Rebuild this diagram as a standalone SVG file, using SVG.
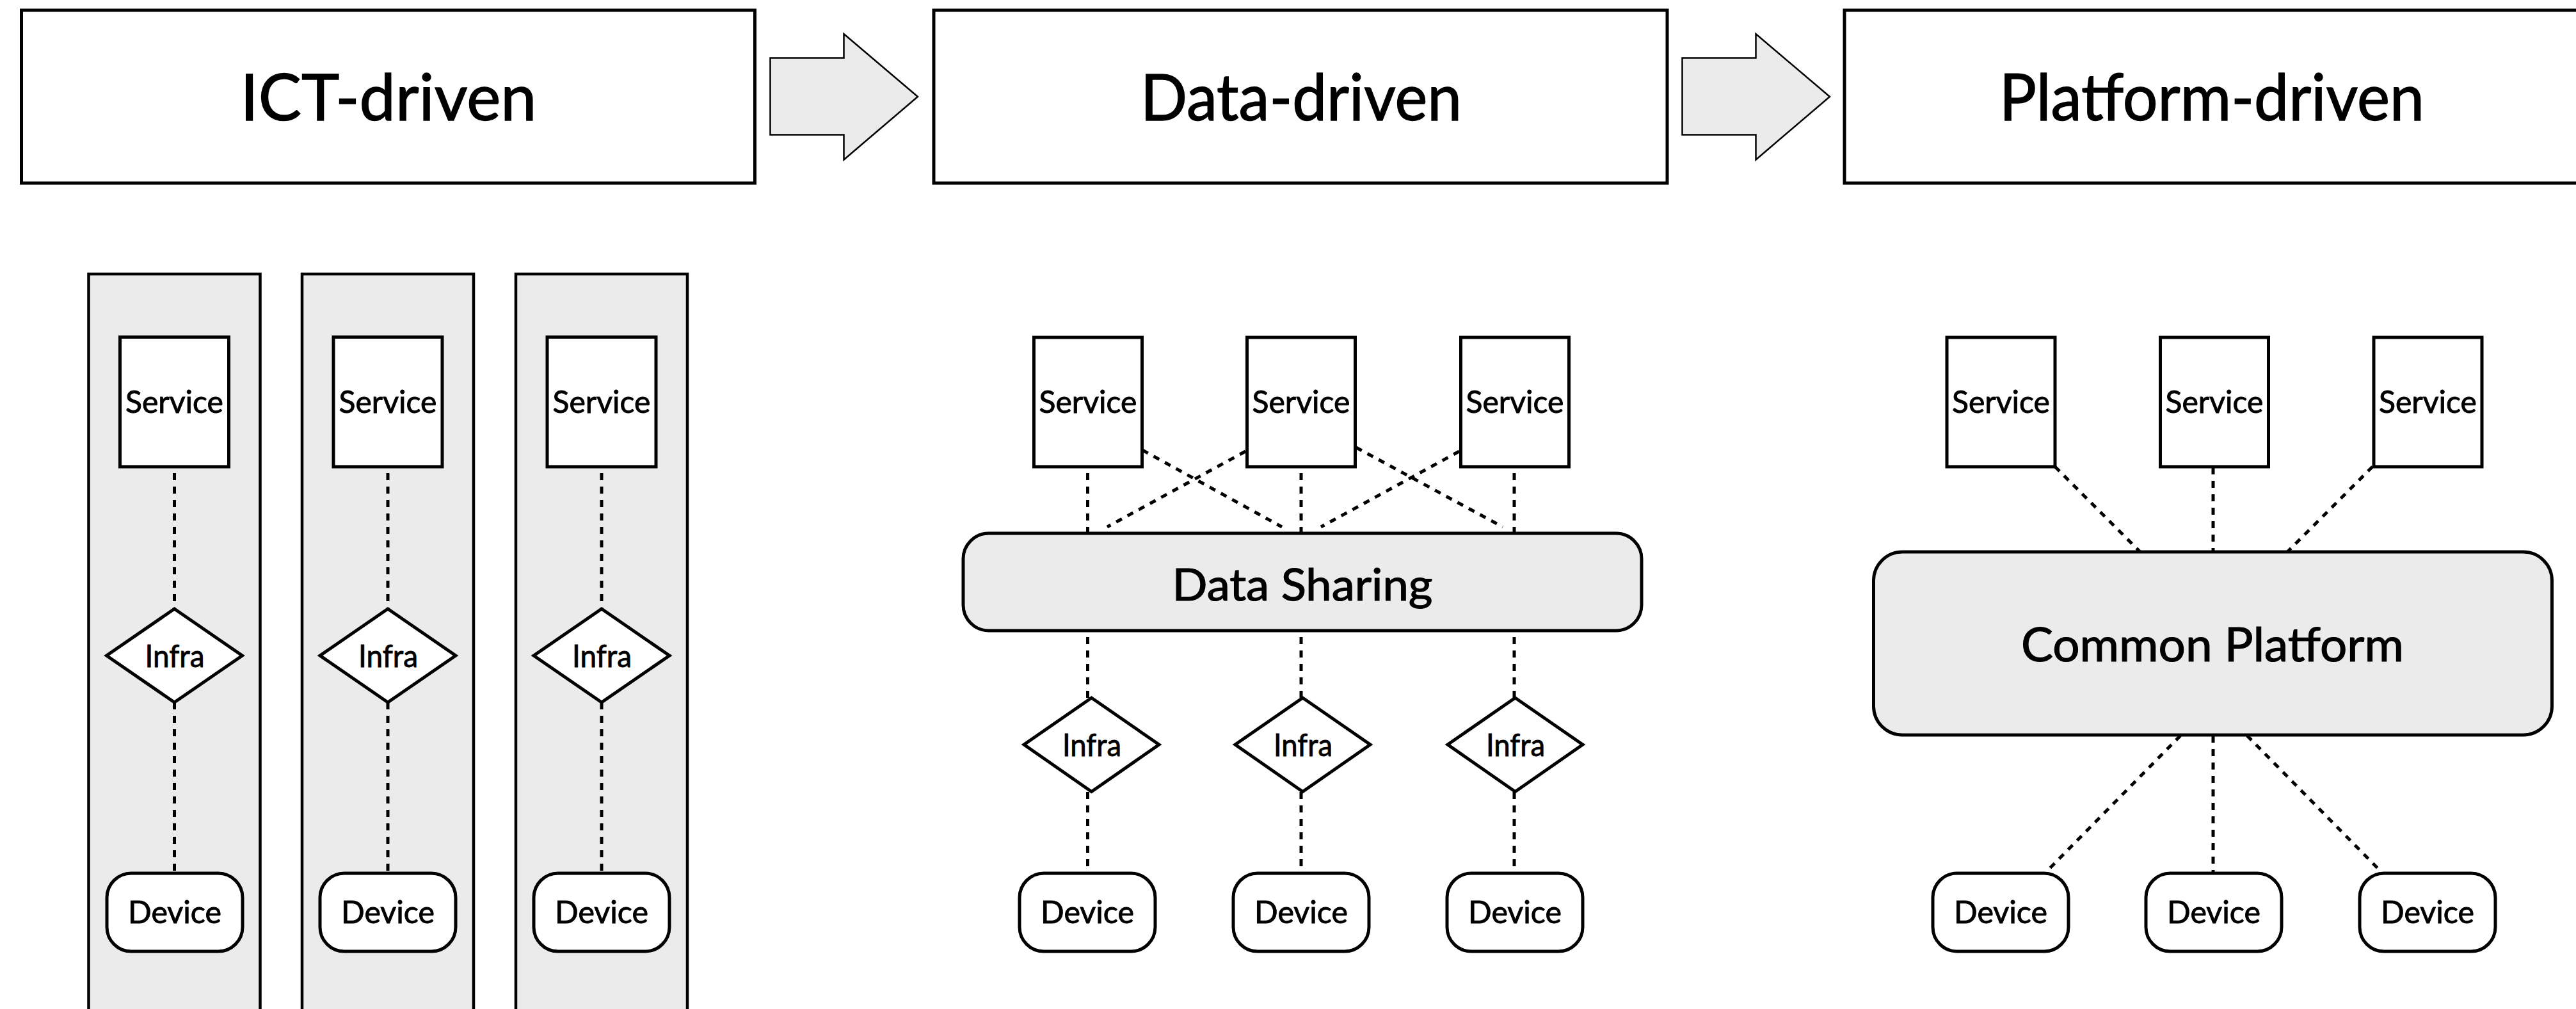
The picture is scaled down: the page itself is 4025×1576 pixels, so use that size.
<svg xmlns="http://www.w3.org/2000/svg" width="4025" height="1576" viewBox="0 0 4025 1576">
<style>
text{font-family:"Lato","Open Sans","Liberation Sans",sans-serif;fill:#000;stroke:#000;stroke-width:0.9;text-anchor:middle}
.hdr rect{fill:#fff;stroke:#000;stroke-width:5}
.hdr text{font-size:101px;stroke-width:1.4}
.arrow{fill:#ebebeb;stroke:#000;stroke-width:2.5;stroke-linejoin:miter}
.lane{fill:#ebebeb;stroke:#000;stroke-width:4.5}
.svc rect{fill:#fff;stroke:#000;stroke-width:5}
.svc text,.inf text,.dev text{font-size:48px}
.inf polygon{fill:#fff;stroke:#000;stroke-width:5;stroke-linejoin:miter}
.dev rect{fill:#fff;stroke:#000;stroke-width:5}
.hub rect{fill:#ebebeb;stroke:#000;stroke-width:5}
.hub text{stroke-width:1.2}
.conn line{stroke:#000;stroke-width:5;fill:none}
.conn .v{stroke-dasharray:11 10}
.conn .d{stroke-dasharray:10 10}
</style>
<g id="headers">
<g id="hdr-ict" class="hdr"><rect x="33.5" y="16" width="1146" height="270"/><text x="607" y="188" textLength="463" lengthAdjust="spacingAndGlyphs">ICT-driven</text></g>
<g id="hdr-data" class="hdr"><rect x="1459" y="16" width="1146" height="270"/><text x="2033" y="188" textLength="502" lengthAdjust="spacingAndGlyphs">Data-driven</text></g>
<g id="hdr-platform" class="hdr"><rect x="2882" y="16" width="1150" height="270"/><text x="3456" y="188" textLength="664" lengthAdjust="spacingAndGlyphs">Platform-driven</text></g>
</g>
<g id="stage-arrows">
<polygon id="arrow-1" class="arrow" points="1203.5,90.5 1318.5,90.5 1318.5,53 1434,151 1318.5,249.5 1318.5,210.5 1203.5,210.5"/>
<polygon id="arrow-2" class="arrow" points="2628.5,90.5 2743.5,90.5 2743.5,53 2859,151 2743.5,249.5 2743.5,210.5 2628.5,210.5"/>
</g>
<g id="lanes">
<rect id="lane-1" class="lane" x="138.5" y="428" width="268" height="1200"/>
<rect id="lane-2" class="lane" x="472" y="428" width="268" height="1200"/>
<rect id="lane-3" class="lane" x="806" y="428" width="268" height="1200"/>
</g>
<g id="connectors" class="conn">
<line class="v" x1="272.5" y1="739" x2="272.5" y2="951"/>
<line class="v" x1="272.5" y1="1097" x2="272.5" y2="1364"/>
<line class="v" x1="606" y1="739" x2="606" y2="951"/>
<line class="v" x1="606" y1="1097" x2="606" y2="1364"/>
<line class="v" x1="940" y1="739" x2="940" y2="951"/>
<line class="v" x1="940" y1="1097" x2="940" y2="1364"/>
<line class="v" x1="1699.5" y1="739" x2="1699.5" y2="833"/>
<line class="v" x1="2033" y1="739" x2="2033" y2="833"/>
<line class="v" x1="2366" y1="739" x2="2366" y2="833"/>
<line class="d" x1="1785" y1="703" x2="2003" y2="823"/>
<line class="d" x1="1946" y1="705" x2="1730" y2="823"/>
<line class="d" x1="2119" y1="699" x2="2348" y2="823"/>
<line class="d" x1="2280" y1="705" x2="2064" y2="823"/>
<line class="v" x1="1699.5" y1="995" x2="1699.5" y2="1090"/>
<line class="v" x1="2033" y1="995" x2="2033" y2="1090"/>
<line class="v" x1="2366" y1="995" x2="2366" y2="1090"/>
<line class="v" x1="1699.5" y1="1237" x2="1699.5" y2="1364"/>
<line class="v" x1="2033" y1="1237" x2="2033" y2="1364"/>
<line class="v" x1="2366" y1="1237" x2="2366" y2="1364"/>
<line class="d" x1="3211" y1="729" x2="3344" y2="862"/>
<line class="v" x1="3458" y1="730" x2="3458" y2="862"/>
<line class="d" x1="3707" y1="729" x2="3574" y2="862"/>
<line class="d" x1="3407" y1="1149" x2="3197" y2="1362"/>
<line class="v" x1="3458" y1="1149" x2="3458" y2="1364"/>
<line class="d" x1="3511" y1="1149" x2="3721" y2="1362"/>
</g>
<g id="ict-nodes">
<g id="ict-svc-1" class="svc"><rect x="187.5" y="526.5" width="170" height="202.5"/><text x="272.5" y="645" textLength="153" lengthAdjust="spacingAndGlyphs">Service</text></g>
<g id="ict-svc-2" class="svc"><rect x="521" y="526.5" width="170" height="202.5"/><text x="606" y="645" textLength="153" lengthAdjust="spacingAndGlyphs">Service</text></g>
<g id="ict-svc-3" class="svc"><rect x="855" y="526.5" width="170" height="202.5"/><text x="940" y="645" textLength="153" lengthAdjust="spacingAndGlyphs">Service</text></g>
<g id="ict-inf-1" class="inf"><polygon points="272.5,951 378.5,1024 272.5,1097 166.5,1024"/><text x="273" y="1042" textLength="93" lengthAdjust="spacingAndGlyphs">Infra</text></g>
<g id="ict-inf-2" class="inf"><polygon points="606,951 712,1024 606,1097 500,1024"/><text x="606.5" y="1042" textLength="93" lengthAdjust="spacingAndGlyphs">Infra</text></g>
<g id="ict-inf-3" class="inf"><polygon points="940,951 1046,1024 940,1097 834,1024"/><text x="940.5" y="1042" textLength="93" lengthAdjust="spacingAndGlyphs">Infra</text></g>
<g id="ict-dev-1" class="dev"><rect x="167" y="1364" width="212" height="122" rx="38" ry="38"/><text x="273" y="1442" textLength="146" lengthAdjust="spacingAndGlyphs">Device</text></g>
<g id="ict-dev-2" class="dev"><rect x="500" y="1364" width="212" height="122" rx="38" ry="38"/><text x="606" y="1442" textLength="146" lengthAdjust="spacingAndGlyphs">Device</text></g>
<g id="ict-dev-3" class="dev"><rect x="834" y="1364" width="212" height="122" rx="38" ry="38"/><text x="940" y="1442" textLength="146" lengthAdjust="spacingAndGlyphs">Device</text></g>
</g>
<g id="data-nodes">
<g id="data-svc-1" class="svc"><rect x="1615.5" y="527" width="169" height="202"/><text x="1700" y="645" textLength="153" lengthAdjust="spacingAndGlyphs">Service</text></g>
<g id="data-svc-2" class="svc"><rect x="1948.5" y="527" width="169" height="202"/><text x="2033" y="645" textLength="153" lengthAdjust="spacingAndGlyphs">Service</text></g>
<g id="data-svc-3" class="svc"><rect x="2282.5" y="527" width="169" height="202"/><text x="2367" y="645" textLength="153" lengthAdjust="spacingAndGlyphs">Service</text></g>
<g id="data-sharing" class="hub"><rect x="1505" y="833" width="1060" height="152" rx="40" ry="40"/><text x="2035" y="938" font-size="69" textLength="407" lengthAdjust="spacingAndGlyphs">Data Sharing</text></g>
<g id="data-inf-1" class="inf"><polygon points="1705.5,1090 1811,1163 1705.5,1236.5 1600,1163"/><text x="1706" y="1181" textLength="92" lengthAdjust="spacingAndGlyphs">Infra</text></g>
<g id="data-inf-2" class="inf"><polygon points="2035.5,1090 2141,1163 2035.5,1236.5 1930,1163"/><text x="2036" y="1181" textLength="92" lengthAdjust="spacingAndGlyphs">Infra</text></g>
<g id="data-inf-3" class="inf"><polygon points="2367.5,1090 2473,1163 2367.5,1236.5 2262,1163"/><text x="2368" y="1181" textLength="92" lengthAdjust="spacingAndGlyphs">Infra</text></g>
<g id="data-dev-1" class="dev"><rect x="1593" y="1364" width="212" height="122" rx="38" ry="38"/><text x="1699" y="1442" textLength="146" lengthAdjust="spacingAndGlyphs">Device</text></g>
<g id="data-dev-2" class="dev"><rect x="1927" y="1364" width="212" height="122" rx="38" ry="38"/><text x="2033" y="1442" textLength="146" lengthAdjust="spacingAndGlyphs">Device</text></g>
<g id="data-dev-3" class="dev"><rect x="2261" y="1364" width="212" height="122" rx="38" ry="38"/><text x="2367" y="1442" textLength="146" lengthAdjust="spacingAndGlyphs">Device</text></g>
</g>
<g id="platform-nodes">
<g id="plat-svc-1" class="svc"><rect x="3042" y="527" width="169" height="202"/><text x="3126.5" y="645" textLength="153" lengthAdjust="spacingAndGlyphs">Service</text></g>
<g id="plat-svc-2" class="svc"><rect x="3375.5" y="527" width="169" height="202"/><text x="3460" y="645" textLength="153" lengthAdjust="spacingAndGlyphs">Service</text></g>
<g id="plat-svc-3" class="svc"><rect x="3709" y="527" width="169" height="202"/><text x="3793.5" y="645" textLength="153" lengthAdjust="spacingAndGlyphs">Service</text></g>
<g id="common-platform" class="hub"><rect x="2927.5" y="862" width="1060" height="286" rx="45" ry="45"/><text x="3457" y="1033" font-size="74" textLength="598" lengthAdjust="spacingAndGlyphs">Common Platform</text></g>
<g id="plat-dev-1" class="dev"><rect x="3020" y="1364" width="212" height="122" rx="38" ry="38"/><text x="3126" y="1442" textLength="146" lengthAdjust="spacingAndGlyphs">Device</text></g>
<g id="plat-dev-2" class="dev"><rect x="3353" y="1364" width="212" height="122" rx="38" ry="38"/><text x="3459" y="1442" textLength="146" lengthAdjust="spacingAndGlyphs">Device</text></g>
<g id="plat-dev-3" class="dev"><rect x="3687" y="1364" width="212" height="122" rx="38" ry="38"/><text x="3793" y="1442" textLength="146" lengthAdjust="spacingAndGlyphs">Device</text></g>
</g>
</svg>
